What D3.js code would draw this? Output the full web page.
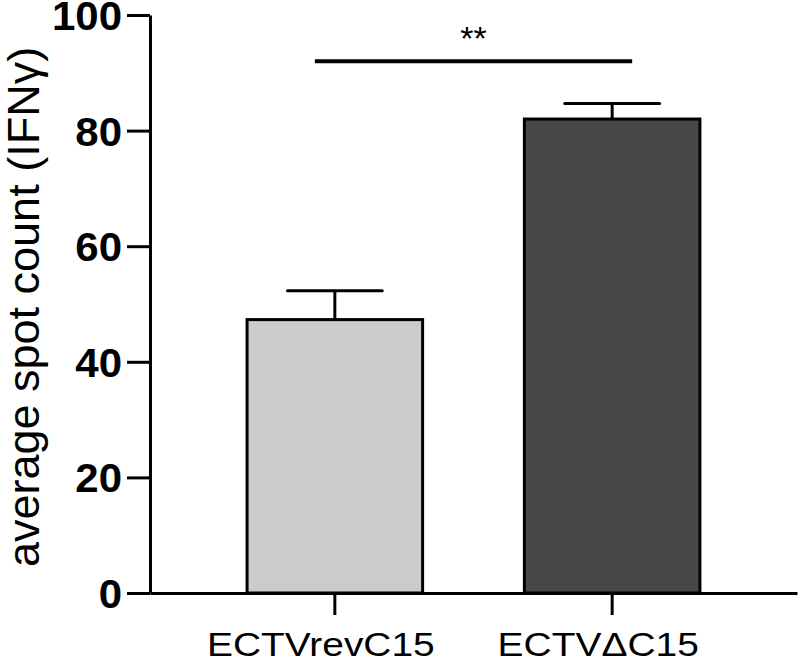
<!DOCTYPE html>
<html>
<head>
<meta charset="utf-8">
<script src="https://cdn.jsdelivr.net/npm/d3@7"></script>
<style>
  body { margin: 0; background: #fff; }
  svg { display: block; font-family: "Liberation Sans", Arial, sans-serif; }
</style>
</head>
<body>
<div id="chart"></div>
<script>
// data
var categories = ["ECTVrevC15", "ECTV\u0394C15"];
var means = [47.3, 82.0];
var sems = [5.0, 2.7];
var fills = ["#cbcbcb", "#474747"];
var yTicks = [0, 20, 40, 60, 80, 100];
var sigLabel = "**";
var sigLevel = 92;

var W = 800, H = 661;
var sx = 1.18; // the figure is stretched sideways a bit

var svg = d3.select("#chart")
  .append("svg")
  .attr("width", W)
  .attr("height", H);

var x = d3.scaleBand()
  .domain(categories)
  .range([150, 797])
  .paddingInner(0.367)
  .paddingOuter(0.35);

var y = d3.scaleLinear()
  .domain([0, 100])
  .range([593, 15]);

// bars
svg.selectAll("rect.bar")
  .data(categories)
  .enter()
  .append("rect")
  .attr("class", "bar")
  .attr("x", function (d) { return x(d); })
  .attr("y", function (d, i) { return y(means[i]); })
  .attr("width", x.bandwidth())
  .attr("height", function (d, i) { return y(0) - y(means[i]); })
  .attr("fill", function (d, i) { return fills[i]; })
  .attr("stroke", "#000")
  .attr("stroke-width", 3);

// error bars (upper only)
var capHalf = x.bandwidth() * 0.27;
categories.forEach(function (d, i) {
  var cx = x(d) + x.bandwidth() / 2;
  svg.append("line")
    .attr("x1", cx).attr("x2", cx)
    .attr("y1", y(means[i])).attr("y2", y(means[i] + sems[i]))
    .attr("stroke", "#000").attr("stroke-width", 3);
  svg.append("line")
    .attr("x1", cx - capHalf).attr("x2", cx + capHalf)
    .attr("y1", y(means[i] + sems[i])).attr("y2", y(means[i] + sems[i]))
    .attr("stroke", "#000").attr("stroke-width", 3)
    .attr("stroke-linecap", "round");
});

// y axis
var tx = 1.05;
var yAxis = svg.append("g")
  .attr("transform", "translate(150,0)")
  .call(d3.axisLeft(y).tickValues(yTicks).tickSize(23).tickSizeOuter(0));
yAxis.select(".domain").attr("stroke-width", 3);
yAxis.selectAll(".tick line").attr("stroke-width", 3);
yAxis.selectAll(".tick text")
  .attr("x", -28 / tx)
  .attr("dy", "0.36em")
  .attr("transform", "scale(" + tx + ",1)")
  .style("font-size", "40px")
  .style("font-weight", "bold")
  .attr("fill", "#000");

// x axis
var xAxis = svg.append("g")
  .attr("transform", "translate(0," + y(0) + ")")
  .call(d3.axisBottom(x).tickSize(22).tickSizeOuter(0));
xAxis.select(".domain").attr("stroke-width", 3);
xAxis.selectAll(".tick line").attr("stroke-width", 3);
xAxis.selectAll(".tick text")
  .attr("x", -14 / sx)
  .attr("y", 63)
  .attr("dy", 0)
  .attr("transform", "scale(" + sx + ",1)")
  .style("font-size", "33px")
  .attr("fill", "#000");

// y label
svg.append("text")
  .attr("transform", "translate(39,307) rotate(-90)")
  .attr("text-anchor", "middle")
  .style("font-size", "45px")
  .text("average spot count (IFN\u03b3)");

// significance bar
var c0 = x(categories[0]) + x.bandwidth() / 2,
  c1 = x(categories[1]) + x.bandwidth() / 2;
svg.append("line")
  .attr("x1", c0 - 20).attr("x2", c1 + 20)
  .attr("y1", y(sigLevel)).attr("y2", y(sigLevel))
  .attr("stroke", "#000").attr("stroke-width", 4);
svg.append("text")
  .attr("x", (c0 + c1) / 2)
  .attr("y", 50)
  .attr("text-anchor", "middle")
  .style("font-size", "34px")
  .text(sigLabel);
</script>
</body>
</html>
